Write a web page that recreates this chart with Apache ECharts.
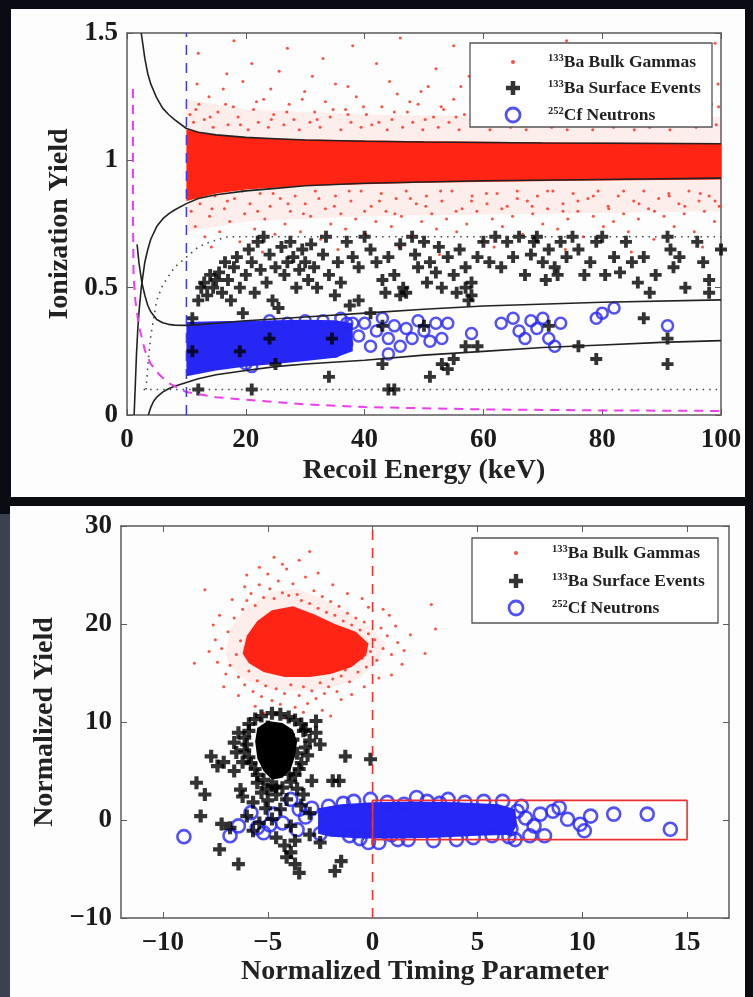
<!DOCTYPE html>
<html>
<head>
<meta charset="utf-8">
<script src="https://cdn.jsdelivr.net/npm/echarts@6/dist/echarts.min.js"></script>
<style>
  html, body { margin: 0; padding: 0; background: #0b0b13; }
  #chart { width: 753px; height: 997px; }
</style>
</head>
<body>
<div id="chart"></div>
<script>
// ---------- upper panel: ionization yield vs recoil energy ----------
const topXTicks = [0, 20, 40, 60, 80, 100]
const topYTicks = [0, 0.5, 1, 1.5]

// dense core of the 133Ba bulk gamma band (outline) and its fainter halo
const gammaCoreTop = [
  [10, 1.12], [15, 1.1], [20, 1.09], [30, 1.082], [50, 1.075], [75, 1.07], [100, 1.068],
  [100, 0.925], [75, 0.92], [50, 0.912], [30, 0.9], [20, 0.885], [15, 0.87], [10, 0.84]
]
const gammaHaloTop = [
  [10, 1.24], [20, 1.2], [40, 1.18], [70, 1.17], [100, 1.17],
  [100, 0.8], [70, 0.79], [40, 0.78], [20, 0.76], [10, 0.72]
]
// scattered gamma events around the band
const gammaDotsTop = [
  [10.6,1.18],[11.2,1.15],[12.1,1.22],[13,1.16],[13.8,1.25],[14.5,1.13],[15.3,1.19],[16.2,1.28],[17,1.14],[17.9,1.21],
  [18.7,1.17],[19.5,1.31],[20.4,1.12],[21.3,1.2],[22.1,1.15],[23,1.24],[23.8,1.13],[24.7,1.18],[25.6,1.35],[26.4,1.14],
  [27.3,1.22],[28.1,1.16],[29,1.12],[29.9,1.27],[30.8,1.15],[31.6,1.19],[32.5,1.13],[33.4,1.23],[34.2,1.17],[35.1,1.3],
  [36,1.12],[36.8,1.2],[37.7,1.15],[38.6,1.25],[39.4,1.13],[40.3,1.18],[41.2,1.14],[42,1.38],[42.9,1.21],[43.8,1.12],
  [44.6,1.16],[45.5,1.26],[46.4,1.13],[47.2,1.19],[48.1,1.15],[49,1.22],[49.8,1.12],[50.7,1.29],[51.6,1.17],[52.4,1.13],
  [53.3,1.2],[54.2,1.15],[55,1.24],[55.9,1.12],[56.8,1.18],[57.6,1.33],[58.5,1.14],[59.4,1.21],[60.2,1.16],[61.1,1.12],
  [62,1.25],[62.8,1.15],[63.7,1.19],[64.6,1.13],[65.4,1.28],[66.3,1.17],[67.2,1.12],[68,1.22],[68.9,1.15],[69.8,1.41],
  [70.6,1.19],[71.5,1.13],[72.4,1.24],[73.2,1.16],[74.1,1.12],[75,1.2],[75.8,1.3],[76.7,1.14],[77.6,1.18],[78.4,1.12],
  [79.3,1.23],[80.2,1.16],[81,1.36],[81.9,1.13],[82.8,1.19],[83.6,1.15],[84.5,1.26],[85.4,1.12],[86.2,1.2],[87.1,1.17],
  [88,1.13],[88.8,1.29],[89.7,1.15],[90.6,1.21],[91.4,1.12],[92.3,1.18],[93.2,1.24],[94,1.14],[94.9,1.19],[95.8,1.13],
  [96.6,1.32],[97.5,1.16],[98.4,1.22],[99.2,1.14],
  [11.6,1.2],[14,1.17],[16.6,1.22],[19.1,1.14],[21.8,1.23],[24.3,1.16],[26.9,1.19],[29.5,1.24],[32,1.16],[34.7,1.2],
  [37.2,1.18],[39.8,1.21],[42.4,1.15],[45,1.19],[47.6,1.23],[50.2,1.16],[52.9,1.21],[55.4,1.17],[58,1.2],[60.7,1.23],
  [63.3,1.17],[65.9,1.21],[68.5,1.18],[71.1,1.16],[73.7,1.22],[76.3,1.17],[78.9,1.2],[81.5,1.23],[84.1,1.17],[86.7,1.22],
  [89.3,1.18],[91.9,1.16],[94.5,1.23],[97.1,1.19],[99.6,1.21],
  [11.8,1.3],[16.8,1.34],[24.2,1.28],[31.2,1.33],[37.2,1.29],[44.2,1.31],[49.5,1.27],[56.2,1.29],[63.1,1.31],[71,1.27],
  [77.2,1.26],[83.2,1.3],[88.2,1.25],[95.2,1.27],[99.5,1.3],
  [12,1.42],[18,1.47],[27,1.44],[33,1.4],[46,1.48],[55,1.45],[61,1.42],[74,1.47],[86,1.44],[93,1.4],[99,1.46],
  [38,1.45],[64,1.37],[21,1.38],[52,1.36],[79,1.34],[90,1.37],
  [10.8,0.8],[11.5,0.74],[12.3,0.83],[13.1,0.7],[13.9,0.78],[14.8,0.86],[15.6,0.72],[16.4,0.81],[17.3,0.76],[18.1,0.85],
  [19,0.68],[19.8,0.79],[20.7,0.83],[21.5,0.73],[22.4,0.87],[23.2,0.77],[24.1,0.82],[24.9,0.71],[25.8,0.85],[26.6,0.75],
  [27.5,0.8],[28.3,0.86],[29.2,0.72],[30,0.83],[30.9,0.78],[31.7,0.88],[32.6,0.69],[33.4,0.81],[34.3,0.75],[35.1,0.86],
  [36,0.79],[36.8,0.73],[37.7,0.84],[38.5,0.77],[39.4,0.88],[40.2,0.71],[41.1,0.82],[41.9,0.76],[42.8,0.87],[43.6,0.8],
  [44.5,0.74],[45.3,0.85],[46.2,0.78],[47,0.88],[47.9,0.7],[48.7,0.83],[49.6,0.76],[50.4,0.86],[51.3,0.79],[52.1,0.73],
  [53,0.84],[53.8,0.77],[54.7,0.88],[55.5,0.72],[56.4,0.81],[57.2,0.75],[58.1,0.86],[58.9,0.8],[59.8,0.68],[60.6,0.83],
  [61.5,0.77],[62.3,0.87],[63.2,0.74],[64,0.82],[64.9,0.78],[65.7,0.88],[66.6,0.71],[67.4,0.84],[68.3,0.79],[69.1,0.86],
  [70,0.75],[70.8,0.81],[71.7,0.88],[72.5,0.73],[73.4,0.83],[74.2,0.77],[75.1,0.87],[75.9,0.8],[76.8,0.7],[77.6,0.85],
  [78.5,0.78],[79.3,0.88],[80.2,0.74],[81,0.82],[81.9,0.76],[82.7,0.86],[83.6,0.79],[84.4,0.72],[85.3,0.84],[86.1,0.77],
  [87,0.88],[87.8,0.81],[88.7,0.69],[89.5,0.85],[90.4,0.78],[91.2,0.87],[92.1,0.74],[92.9,0.83],[93.8,0.79],[94.6,0.88],
  [95.5,0.72],[96.3,0.84],[97.2,0.8],[98,0.86],[98.9,0.76],[99.7,0.82],
  [11.9,0.86],[14.3,0.81],[16.9,0.84],[19.4,0.88],[22,0.8],[24.6,0.87],[27.1,0.83],[29.7,0.79],[32.3,0.85],[34.9,0.82],
  [37.4,0.88],[40,0.8],[42.5,0.84],[45.1,0.79],[47.7,0.85],[50.3,0.82],[52.8,0.88],[55.4,0.8],[58,0.84],[60.5,0.87],
  [63.1,0.81],[65.7,0.85],[68.2,0.82],[70.8,0.88],[73.4,0.8],[75.9,0.84],[78.5,0.86],[81.1,0.81],[83.6,0.88],[86.2,0.83],
  [88.8,0.8],[91.3,0.86],[93.9,0.82],[96.5,0.87],[99,0.84],
  [14.2,0.66],[22.8,0.64],[35.5,0.65],[45.8,0.66],[52.6,0.63],[61.8,0.66],[73.8,0.65],[84.9,0.64],[96.9,0.66]
]
// 133Ba surface events
const surfaceTop = [
  [12,0.45],[12.5,0.5],[13,0.52],[13.5,0.47],[14,0.55],[14.5,0.5],[15,0.53],[15.5,0.56],[16,0.48],[16.5,0.6],
  [17,0.53],[17.5,0.45],[18,0.58],[18.5,0.62],[19,0.5],[19.5,0.4],[20,0.55],[20.5,0.65],[21,0.6],[21.5,0.48],
  [22,0.68],[22.5,0.57],[23,0.7],[23.5,0.52],[24,0.63],[24.5,0.45],[25,0.58],[25.5,0.42],[26,0.66],[26.5,0.55],
  [27,0.6],[27.5,0.68],[28,0.62],[28.5,0.5],[29,0.57],[29.5,0.65],[30,0.6],[30.5,0.53],[31,0.67],[31.5,0.58],
  [32,0.5],[33,0.63],[33.5,0.7],[34,0.55],[35,0.47],[35.5,0.6],[36,0.52],[37,0.68],[37.5,0.43],[38,0.62],
  [39,0.58],[40,0.7],[41,0.65],[42,0.6],[43,0.53],[43.5,0.48],[44,0.62],[45,0.55],[46,0.67],[46.5,0.5],
  [47,0.48],[48,0.7],[48.5,0.63],[49,0.58],[50,0.68],[50.5,0.52],[51,0.6],[52,0.56],[52.5,0.66],[53,0.5],
  [54,0.62],[55,0.55],[55.5,0.48],[56,0.65],[57,0.58],[57.5,0.45],[58,0.52],[59,0.62],[60,0.68],[61,0.6],
  [62,0.7],[63,0.58],[64,0.68],[65,0.62],[66,0.7],[67,0.55],[68,0.63],[68.5,0.68],[69,0.7],[70,0.6],
  [70.5,0.53],[71,0.65],[72,0.58],[72.5,0.55],[73,0.68],[74,0.62],[75,0.7],[76,0.65],[77,0.55],[78,0.6],
  [79,0.68],[80,0.7],[80.5,0.55],[82,0.62],[83,0.56],[84,0.68],[85,0.6],[86,0.52],[87,0.62],[88,0.48],
  [89,0.55],[91,0.7],[91.5,0.65],[92,0.58],[93,0.62],[94,0.5],[96,0.68],[97,0.6],[98,0.53],[100,0.65],
  [98,0.48],[58,0.47],[57,0.5],[46,0.47],
  [11,0.38],[11,0.25],[12,0.1],[19,0.25],[21,0.1],[24,0.3],[25,0.2],[34,0.15],[34.5,0.3],[43,0.35],
  [43,0.2],[44,0.1],[45,0.1],[51,0.15],[53,0.2],[54,0.18],[55,0.22],[59,0.27],[71,0.35],[76,0.27],
  [79,0.22],[87,0.38],[91,0.3],[91,0.2],[57,0.27],[39,0.45],[41,0.4],[50,0.35]
]
// 252Cf neutrons: dense core outline + individual events
const neutronCoreTop = [
  [10, 0.365], [15, 0.368], [20, 0.37], [25, 0.372], [30, 0.374], [35, 0.372], [38, 0.36],
  [38, 0.25], [35, 0.225], [30, 0.212], [25, 0.2], [20, 0.19], [15, 0.175], [10, 0.152]
]
const neutronsTop = [
  [36,0.38],[37,0.36],[38,0.36],[39,0.31],[40,0.36],[41,0.27],[42,0.33],[43,0.38],[44,0.3],[45,0.35],
  [46,0.27],[47,0.34],[48,0.3],[49,0.37],[50,0.33],[51,0.29],[52,0.36],[53,0.3],[54,0.36],[58,0.32],
  [63,0.36],[65,0.38],[66,0.33],[67,0.3],[68,0.37],[69,0.34],[70,0.38],[71,0.3],[72,0.27],[73,0.36],
  [79,0.38],[80,0.4],[82,0.42],[91,0.35],[20,0.2],[21,0.19],[44,0.24],[30,0.37],[27,0.36],[24,0.37],
  [33,0.37],[35,0.25],[37,0.28]
]
// band / threshold curves
const erUpper = [[2.4,1.5],[2.7,1.45],[3,1.4],[3.5,1.34],[4,1.3],[5,1.245],[6,1.205],[7,1.18],[8,1.16],[10,1.125],[12,1.11],[15,1.1],[20,1.09],[25,1.085],[30,1.08],[40,1.075],[50,1.072],[60,1.07],[70,1.068],[80,1.067],[90,1.066],[100,1.065]]
const erLower = [[1.2,0],[1.4,0.12],[1.6,0.24],[1.8,0.33],[2,0.4],[2.4,0.5],[3,0.6],[3.5,0.65],[4,0.69],[5,0.74],[6,0.77],[7,0.79],[8,0.805],[10,0.83],[12,0.85],[15,0.865],[20,0.88],[25,0.89],[30,0.9],[40,0.91],[50,0.915],[60,0.92],[80,0.925],[100,0.93]]
const nrUpper = [[1.7,0.67],[2,0.6],[2.5,0.52],[3,0.47],[3.5,0.43],[4,0.405],[5,0.375],[6,0.362],[7,0.356],[8,0.353],[10,0.352],[12,0.355],[15,0.36],[20,0.37],[30,0.385],[40,0.4],[50,0.415],[60,0.428],[80,0.443],[100,0.452]]
const nrLower = [[3.6,0],[4,0.03],[4.5,0.055],[5,0.07],[6,0.09],[7,0.103],[8,0.113],[10,0.128],[12,0.142],[15,0.158],[20,0.175],[25,0.19],[30,0.2],[40,0.215],[50,0.235],[60,0.25],[70,0.265],[80,0.275],[90,0.285],[100,0.292]]
const thresholdCurve = [[1,1.28],[1,0.8],[1.1,0.55],[1.4,0.45],[2,0.35],[3,0.255],[4,0.2],[5.5,0.157],[7,0.125],[10,0.09],[15,0.07],[20,0.06],[30,0.042],[40,0.031],[60,0.022],[80,0.018],[100,0.016]]
const surfaceCutCurve = [[3.2,0.1],[3.6,0.22],[4,0.31],[5,0.45],[6,0.51],[8,0.58],[10,0.62],[12,0.66],[14,0.68],[17,0.7],[100,0.7]]
const yieldFloor = [[2.8,0.1],[100,0.1]]
const energyThreshold = [[10,0],[10,1.5]]

// ---------- lower panel: normalized yield vs timing parameter ----------
const bottomXTicks = [-10, -5, 0, 5, 10, 15]
const bottomYTicks = [-10, 0, 10, 20, 30]

const gammaCoreBottom = [
  [-6.2,17],[-6,18.8],[-5.5,20.3],[-4.8,21.4],[-3.8,21.8],[-2.8,21],[-1.8,20],[-0.8,19.2],[-0.2,18],
  [-0.3,16.8],[-1,15.6],[-2,14.9],[-3,14.6],[-4.2,14.6],[-5.2,15.1],[-5.9,16]
]
const gammaHaloBottom = [
  [-7,17],[-6.8,19.5],[-6,21.8],[-4.8,23.3],[-3.6,23.6],[-2.3,22.5],[-1.1,21],[0,19.5],[0.6,18],
  [0.3,16.3],[-0.6,14.5],[-2,13.5],[-3.4,13.1],[-4.8,13.3],[-6,14.2],[-6.8,15.6]
]
const gammaDotsBottom = [
  [-7.2,17.5],[-6.9,19.2],[-6.8,15.8],[-6.6,20.6],[-6.5,16.9],[-6.4,14.6],[-6.3,18.3],[-6.2,21.5],[-6.1,13.8],[-6,22.4],
  [-5.9,15.2],[-5.8,23.1],[-5.7,13.1],[-5.6,21.9],[-5.5,14.2],[-5.4,24],[-5.3,12.6],[-5.2,22.7],[-5.1,13.7],[-5,25.1],
  [-4.9,23.6],[-4.8,12.2],[-4.7,22.6],[-4.6,13.4],[-4.5,24.4],[-4.4,11.8],[-4.3,23.2],[-4.2,12.9],[-4.1,25.6],[-4,22.9],
  [-3.9,13.8],[-3.8,24.1],[-3.7,11.5],[-3.6,23],[-3.5,12.7],[-3.4,22.4],[-3.3,13.6],[-3.2,24.8],[-3.1,11.9],[-3,22.1],
  [-2.9,13.2],[-2.8,23.4],[-2.7,12.4],[-2.6,21.6],[-2.5,14],[-2.4,22.8],[-2.3,12.9],[-2.2,21.2],[-2.1,13.6],[-2,22.3],
  [-1.9,14.4],[-1.8,20.9],[-1.7,13.1],[-1.6,21.8],[-1.5,14.7],[-1.4,20.3],[-1.3,15.3],[-1.2,21.1],[-1.1,14.1],[-1,19.9],
  [-0.9,16],[-0.8,20.6],[-0.7,15.1],[-0.6,19.4],[-0.5,16.5],[-0.4,20.2],[-0.3,15.6],[-0.2,19],[-0.1,17.2],[0.1,18.4],
  [0.2,16.3],[0.4,19.6],[0.5,17.5],[0.7,18.8],[0.9,16.9],[1.2,18.1],[1.5,17.3],[1.8,18.9],[-7.5,18.4],[-7,14.9],
  [-6.7,22.5],[-5.6,11.6],[-4.3,26.1],[-2.4,11.2],[-1,12.8],[0.3,14.5],[-7.3,20.9],[-6,25],[-3.5,26.5],[-0.5,22.6],
  [0.8,20.9],[-5.2,10.9],[-2,10.6],[-3,27.4],[2.5,17],[3,19.5],[-8.5,16],[-8,23.5],[2.8,22],
  [-7.8,17.2],[-7.6,19.9],[-7.4,16.1],[-6.1,23.8],[-5.4,25.8],[-4.7,26.8],[-2.6,25.2],[-1.9,24],[-1.2,23.1],[-0.2,21.7],
  [0.5,21.5],[1.1,19.8],[1.4,15.9],[0.9,14.8],[-0.4,13.6],[-1.5,12.3],[-3.3,11],[-4.1,10.4],[-6.4,12.7],[-7.1,13.6]
]
const surfaceCoreBottom = [
  [-5.5,9.4],[-5,10.1],[-4.3,9.9],[-3.8,9.2],[-3.6,8],[-3.7,6.5],[-3.9,5.2],[-4.3,4.3],[-4.8,4.1],[-5.2,5],[-5.5,6.3],[-5.6,8]
]
const surfaceBottom = [
  [-5.6,10.3],[-4.8,10.9],[-4,10.5],[-3.4,9.8],[-5.9,9.1],[-6,7.7],[-5.9,6.4],[-5.6,5.2],[-5.2,4.1],[-4.6,3.4],
  [-3.9,3.9],[-3.5,5.2],[-3.1,6.6],[-3,8.1],[-3.2,9.2],[-2.7,10.1],[-2.7,8.9],[-2.5,7.7],[-6.4,8.9],[-6.6,7.9],
  [-6.5,6.9],[-6.3,3.1],[-6.2,2.4],[-5.7,1.8],[-5.3,2.8],[-4.8,3.5],[-4.1,2.1],[-4.4,1.1],[-4.8,0.1],[-3.9,-0.6],
  [-3,0.7],[-6,0.4],[-7.7,6.5],[-7.4,5.5],[-7.1,5.9],[-8.4,3.8],[-8,2.6],[-8.2,0.4],[-7.2,-0.4],[-7.3,-3],
  [-6.4,-4.5],[-6.8,-0.8],[-5.7,-1.1],[-3.9,-3.3],[-4.1,-3.8],[-3.7,-4.5],[-3.5,-5.4],[-1.8,-5.2],[-1.5,-4.2],[-2.5,-2.3],
  [-3,-1.5],[-3.7,-2.1],[-1.3,6.5],[-1.9,4],[-1.6,4],[-2.9,4],[-0.1,6.2],[-5,2],[-4.6,-1.8],[-5.4,-0.3],
  [-3.4,1.5],[-4.2,-2.6],[-6.6,5],[-5,9.5],[-4.3,6],[-5.2,7.2],[-3.8,8.2],[-4.6,8.8],[-3.6,6.8],[-5.5,3.8],
  [-4,4.7],[-6.2,5.9],
  [-5.3,10.6],[-4.4,10.8],[-3.7,10.2],[-3.3,9.1],[-3.2,7.4],[-3.4,5.8],[-3.7,4.6],[-4.3,3.3],[-5,3.2],[-5.5,4.6],
  [-5.8,5.8],[-6.1,7.1],[-6.1,8.4],[-5.9,9.8],[-4.6,2.6],[-3.6,3.2],[-5.1,1.2],[-3.3,2.6]
]
const neutronCoreBottom = [
  [-2.6,-1.4],[-2.6,1.2],[-1.5,1.6],[0,1.8],[2,1.9],[4,1.8],[6,1.6],[6.8,1.1],[6.9,-0.5],[6.6,-1.5],
  [5,-1.6],[3,-1.8],[1,-1.9],[-0.5,-1.9],[-2,-1.7]
]
const neutronsBottom = [
  [-9,-1.7],[-6.8,-1.6],[-6.4,-0.6],[-5.8,0.75],[-5.2,-1.3],[-4.7,0.6],[-3.9,2.1],[-4.3,-0.3],[-3.6,-1],[-3.2,0.3],
  [-2.9,1.2],[-2.5,-1.4],[-2.1,1.4],[-1.8,-0.4],[-1.4,1.7],[-0.9,1.9],[-0.6,-1.9],[-0.1,2.1],[-0.2,-2.3],[0.3,-2.3],
  [0.7,1.8],[1.2,-2],[1.7,-2],[2.1,2.3],[2.6,1.9],[2.9,-2.1],[3.2,1.7],[3.6,2.1],[4,-2],[4.4,1.8],
  [4.8,-1.8],[5.3,1.9],[5.7,-1.6],[6.2,1.9],[6.5,-1.7],[6.8,-2],[7.1,1.4],[7.3,0.2],[7.5,-1.6],[7.7,-0.6],
  [8,0.6],[8.2,-1.6],[8.6,0.9],[8.9,1.26],[9.3,0.07],[9.9,-0.44],[10.1,-1.1],[10.4,0.4],[11.5,0.6],[13.1,0.6],
  [14.2,-0.95],[-5.5,-0.8],[-4.9,-0.5],[-3.5,1.1],[6.9,0.9],[6.6,-0.9],[5.9,0.4],[1.5,1.6],[-1.1,-1.6],[0.9,-1.5]
]
const timingCut = [[0,-10],[0,30]]
const signalBox = [[0,-2],[15,-2],[15,2],[0,2],[0,-2]]

const seriesNames = ['133Ba Bulk Gammas', '133Ba Surface Events', '252Cf Neutrons']

// ---------- styling ----------
const RED = '#ff2414'
const HALO = 'rgba(255, 60, 40, 0.08)'
const BLUE = '#2626f5'
const MAGENTA = '#ee3cf0'
const SERIF = '"Liberation Serif", "DejaVu Serif", serif'
const CROSS = 'path://M3.4,0H6.6V3.4H10V6.6H6.6V10H3.4V6.6H0V3.4H3.4Z'
const minus = v => String(v).replace('-', '\u2212')

const chart = echarts.init(document.getElementById('chart'), null, { renderer: 'canvas' })

function polygonSeries(name, poly, color, axis, z) {
  return {
    name: name,
    type: 'custom',
    xAxisIndex: axis,
    yAxisIndex: axis,
    z: z,
    silent: true,
    data: [0],
    renderItem: (params, api) => ({
      type: 'polygon',
      shape: { points: poly.map(p => api.coord(p)) },
      style: { fill: color }
    })
  }
}

function lineSeries(data, color, width, type, axis, z) {
  return {
    type: 'line',
    xAxisIndex: axis,
    yAxisIndex: axis,
    data: data,
    symbol: 'none',
    silent: true,
    z: z,
    lineStyle: { color: color, width: width, type: type }
  }
}

function boxAxes(gridIndex, min, max, ticks, name, nameGap, isX) {
  const common = {
    type: 'value',
    gridIndex: gridIndex,
    min: min,
    max: max,
    splitLine: { show: false },
    axisLine: { show: true, onZero: false, lineStyle: { color: '#5a5a5a', width: 1.5 } },
    axisTick: { show: true, inside: true, length: 6, customValues: ticks, lineStyle: { color: '#5a5a5a' } }
  }
  const main = Object.assign({}, common, {
    position: isX ? 'bottom' : 'left',
    name: name,
    nameLocation: 'middle',
    nameGap: nameGap,
    nameTextStyle: { fontFamily: SERIF, fontWeight: 'bold', fontSize: 28, color: '#222' },
    axisLabel: {
      customValues: ticks, margin: isX ? 12 : 9,
      fontFamily: SERIF, fontWeight: 'bold', fontSize: 27, color: '#1a1a1a',
      formatter: minus
    }
  })
  const opposite = Object.assign({}, common, {
    position: isX ? 'top' : 'right',
    axisLabel: { show: false }
  })
  return [main, opposite]
}

// one legend row; the content box starts at the icon's left edge, so place it from the icon centre
const legendIcons = [
  { icon: 'circle', size: 4, itemStyle: { color: RED } },
  { icon: CROSS, size: 14, itemStyle: { color: '#000' } },
  { icon: 'circle', size: 14, extent: 16.8, itemStyle: { color: 'rgba(0,0,0,0)', borderColor: BLUE, borderWidth: 2.8 } }
]
function legendRow(i, centerX, centerY, itemWidth) {
  const ic = legendIcons[i]
  const extent = ic.extent || ic.size
  return {
    z: 30,
    data: [{ name: seriesNames[i], icon: ic.icon, itemStyle: ic.itemStyle }],
    left: centerX - extent / 2,
    top: centerY - 9,
    padding: 0,
    itemWidth: itemWidth,
    itemHeight: ic.size,
    selectedMode: false,
    formatter: name => {
      const m = name.match(/^(\d+)(.*)$/)
      return '{s|' + m[1] + '}{t|' + m[2] + '}'
    },
    textStyle: {
      rich: {
        s: { fontFamily: SERIF, fontWeight: 'bold', fontSize: 10.5, lineHeight: 10, verticalAlign: 'top', color: '#222' },
        t: { fontFamily: SERIF, fontWeight: 'bold', fontSize: 17.5, lineHeight: 18, color: '#222' }
      }
    }
  }
}

const [topX, topX2] = boxAxes(0, 0, 100, topXTicks, 'Recoil Energy (keV)', 42, true)
const [topY, topY2] = boxAxes(0, 0, 1.5, topYTicks, 'Ionization Yield', 50, false)
const [botX, botX2] = boxAxes(1, -12, 17, bottomXTicks, 'Normalized Timing Parameter', 40, true)
const [botY, botY2] = boxAxes(1, -10, 30, bottomYTicks, 'Normalized Yield', 62, false)

const option = {
  backgroundColor: '#0b0b13',
  animation: false,
  graphic: [
    { type: 'rect', z: -10, shape: { x: 11, y: 9, width: 734, height: 488 }, style: { fill: '#fdfdfd' } },
    { type: 'rect', z: -10, shape: { x: 0, y: 514, width: 10, height: 483 }, style: { fill: '#3c4152' } },
    { type: 'rect', z: -10, shape: { x: 10, y: 506, width: 735, height: 491 }, style: { fill: '#fdfdfd' } },
    { type: 'rect', z: 10, shape: { x: 470, y: 43, width: 242, height: 84 }, style: { fill: '#fff', stroke: '#555', lineWidth: 1.3 } },
    { type: 'rect', z: 10, shape: { x: 472, y: 538, width: 246, height: 85 }, style: { fill: '#fff', stroke: '#555', lineWidth: 1.3 } }
  ],
  legend: [
    legendRow(0, 513, 62, 60), legendRow(1, 513, 88, 60), legendRow(2, 513, 115, 60),
    legendRow(0, 516, 553, 62), legendRow(1, 516, 581, 62), legendRow(2, 516, 608, 62)
  ],
  grid: [
    { left: 127, top: 33, right: 32, height: 382 },
    { left: 121, top: 526, right: 24, height: 392 }
  ],
  xAxis: [topX, topX2, botX, botX2],
  yAxis: [topY, topY2, botY, botY2],
  series: [
    // upper panel
    polygonSeries('gamma halo top', gammaHaloTop, HALO, 0, 1),
    polygonSeries('gamma core top', gammaCoreTop, RED, 0, 2),
    { name: seriesNames[0], type: 'scatter', xAxisIndex: 0, yAxisIndex: 0, z: 2, silent: true,
      symbol: 'circle', symbolSize: 3, itemStyle: { color: RED }, data: gammaDotsTop },
    polygonSeries('neutron core top', neutronCoreTop, BLUE, 0, 3),
    { name: seriesNames[2], type: 'scatter', xAxisIndex: 0, yAxisIndex: 0, z: 3, silent: true,
      symbol: 'circle', symbolSize: 11, itemStyle: { color: 'rgba(0,0,0,0)', borderColor: BLUE, borderWidth: 2.5 },
      data: neutronsTop },
    { name: seriesNames[1], type: 'scatter', xAxisIndex: 0, yAxisIndex: 0, z: 4, silent: true,
      symbol: CROSS, symbolSize: 12, itemStyle: { color: '#000' }, data: surfaceTop },
    lineSeries(erUpper, '#222', 1.6, 'solid', 0, 5),
    lineSeries(erLower, '#222', 1.6, 'solid', 0, 5),
    lineSeries(nrUpper, '#222', 1.6, 'solid', 0, 5),
    lineSeries(nrLower, '#222', 1.6, 'solid', 0, 5),
    lineSeries(thresholdCurve, MAGENTA, 2, [9, 7], 0, 5),
    lineSeries(surfaceCutCurve, '#444', 1.6, [1.5, 5], 0, 5),
    lineSeries(yieldFloor, '#444', 1.6, [1.5, 5], 0, 5),
    lineSeries(energyThreshold, '#3a3af0', 1.5, [10, 8], 0, 5),

    // lower panel
    polygonSeries('gamma halo bottom', gammaHaloBottom, HALO, 2, 1),
    polygonSeries('gamma core bottom', gammaCoreBottom, RED, 2, 2),
    { name: seriesNames[0], type: 'scatter', xAxisIndex: 2, yAxisIndex: 2, z: 2, silent: true,
      symbol: 'circle', symbolSize: 3, itemStyle: { color: RED }, data: gammaDotsBottom },
    polygonSeries('neutron core bottom', neutronCoreBottom, BLUE, 2, 3),
    { name: seriesNames[2], type: 'scatter', xAxisIndex: 2, yAxisIndex: 2, z: 3, silent: true,
      symbol: 'circle', symbolSize: 13, itemStyle: { color: 'rgba(0,0,0,0)', borderColor: BLUE, borderWidth: 2.6 },
      data: neutronsBottom },
    polygonSeries('surface core bottom', surfaceCoreBottom, '#000', 2, 4),
    { name: seriesNames[1], type: 'scatter', xAxisIndex: 2, yAxisIndex: 2, z: 4, silent: true,
      symbol: CROSS, symbolSize: 13, itemStyle: { color: '#000' }, data: surfaceBottom },
    lineSeries(timingCut, '#ee3030', 1.6, [10, 8], 2, 5),
    lineSeries(signalBox, '#ee3030', 1.6, 'solid', 2, 5)
  ]
}

chart.setOption(option)
</script>
</body>
</html>
